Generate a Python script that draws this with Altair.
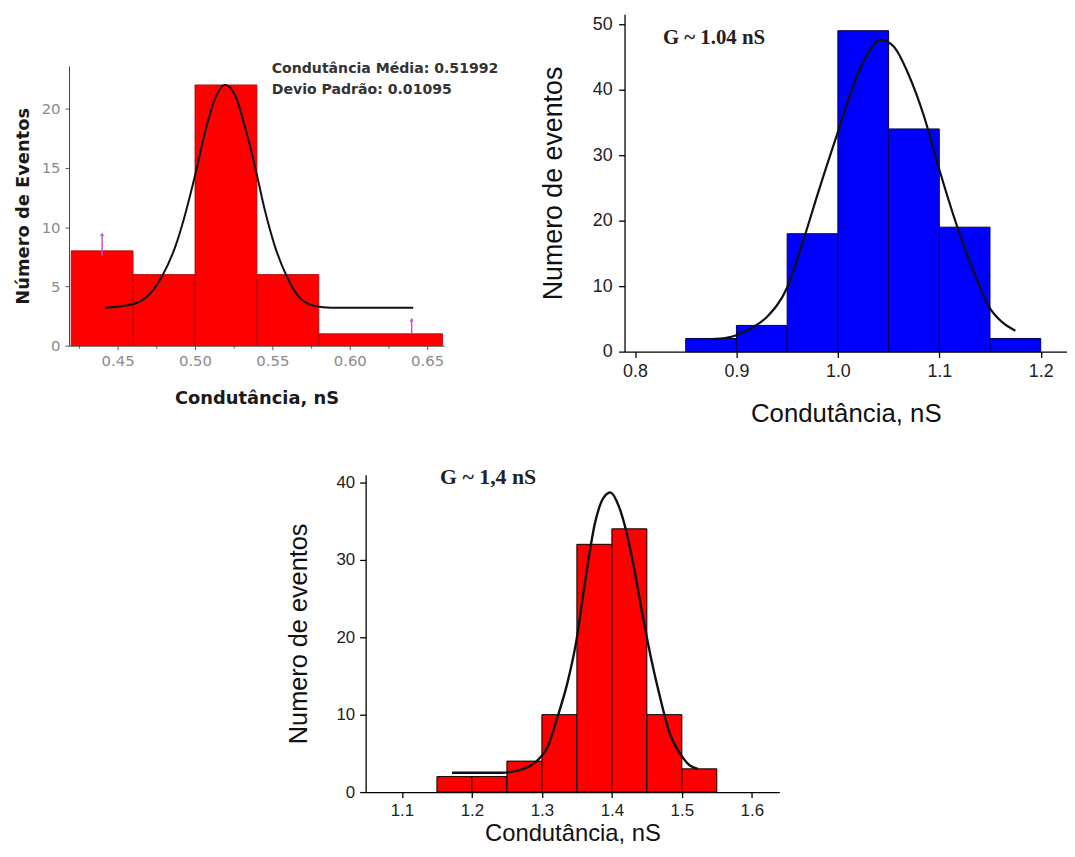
import altair as alt
import pandas as pd

# ---------------- Panel 1 (top-left, red) ----------------
p1_bin_start = [0.42, 0.46, 0.50, 0.54, 0.58]
p1_bin_end = [0.46, 0.50, 0.54, 0.58, 0.66]
p1_counts = [8, 6, 22, 6, 1]
p1_fit_x = [0.4421, 0.4596, 0.4703, 0.4789, 0.4874, 0.4939, 0.5003, 0.5067, 0.5131, 0.5195,
            0.5260, 0.5324, 0.5388, 0.5452, 0.5516, 0.5591, 0.5666, 0.5773, 0.588, 0.641]
p1_fit_y = [3.2, 3.5, 4.3, 5.9, 8.4, 11.2, 14.5, 18.1, 20.9, 22.0,
            21.1, 18.4, 15.1, 11.4, 8.4, 5.9, 4.2, 3.35, 3.2, 3.2]
p1_arrow_x = [0.44, 0.64]
p1_arrow_lo = [7.6, 1.0]
p1_arrow_hi = [9.4, 2.2]
p1_x_ticks = [0.425, 0.45, 0.475, 0.50, 0.525, 0.55, 0.575, 0.60, 0.625, 0.65]
p1_y_ticks = [0, 2.5, 5, 7.5, 10, 12.5, 15, 17.5, 20, 22.5]
p1_note = "Condutância Média: 0.51992\nDevio Padrão: 0.01095"

# ---------------- Panel 2 (top-right, blue) ----------------
p2_bin_start = [0.85, 0.90, 0.95, 1.00, 1.05, 1.10, 1.15]
p2_bin_end = [0.90, 0.95, 1.00, 1.05, 1.10, 1.15, 1.20]
p2_counts = [2, 4, 18, 49, 34, 19, 2]
p2_fit_x = [0.875, 0.89, 0.9, 0.915, 0.93, 0.95, 0.967, 0.98, 1.0, 1.02, 1.03, 1.042,
            1.055, 1.07, 1.085, 1.1, 1.12, 1.1355, 1.15, 1.162, 1.175]
p2_fit_y = [1.9, 2.1, 2.5, 3.6, 5.3, 9.8, 17.5, 24.0, 33.5, 42.5, 45.6, 47.6,
            46.6, 42.2, 35.9, 27.8, 18.0, 11.6, 6.6, 4.5, 3.2]
p2_x_ticks = [0.8, 0.9, 1.0, 1.1, 1.2]
p2_y_ticks = [0, 10, 20, 30, 40, 50]
p2_note = "G ~ 1.04 nS"

# ---------------- Panel 3 (bottom, red) ----------------
p3_bin_start = [1.15, 1.20, 1.25, 1.30, 1.35, 1.40, 1.45, 1.50]
p3_bin_end = [1.20, 1.25, 1.30, 1.35, 1.40, 1.45, 1.50, 1.55]
p3_counts = [2, 2, 4, 10, 32, 34, 10, 3]
p3_fit_x = [1.1716, 1.242, 1.274, 1.293, 1.308, 1.322, 1.337, 1.349, 1.361, 1.376, 1.388,
            1.398, 1.410, 1.420, 1.432, 1.444, 1.456, 1.469, 1.483, 1.498, 1.512, 1.523]
p3_fit_y = [2.5, 2.5, 3.0, 4.05, 5.8, 9.6, 14.3, 19.4, 26.7, 34.8, 38.0,
            38.7, 36.9, 33.9, 28.8, 22.8, 17.3, 12.2, 7.5, 4.9, 3.4, 3.0]
p3_x_ticks = [1.1, 1.2, 1.3, 1.4, 1.5, 1.6]
p3_y_ticks = [0, 5, 10, 15, 20, 25, 30, 35, 40]
p3_note = "G ~ 1,4 nS"

XT = "Condutância, nS"


def spacer(w, h):
    return alt.Chart(pd.DataFrame({"s": [0]})).mark_rect(opacity=0).encode(
        x=alt.value(0), x2=alt.value(1), y=alt.value(0), y2=alt.value(1)
    ).properties(width=w, height=h)


# ---------------- Panel 1 ----------------
W1, H1 = 378, 282
df1 = pd.DataFrame({"x0": p1_bin_start, "x1": p1_bin_end, "n": p1_counts})
fit1 = pd.DataFrame({"x": p1_fit_x, "y": p1_fit_y})
arr1 = pd.DataFrame({"x": p1_arrow_x, "lo": p1_arrow_lo, "hi": p1_arrow_hi})
note1 = pd.DataFrame({"t": [p1_note]})
YT1 = "Número de Eventos"

maj1x = "abs(datum.value*20 - round(datum.value*20)) < 0.001"
maj1y = "datum.value % 5 == 0"
common1 = dict(grid=False, labelFont="DejaVu Sans", labelFontSize=15, labelColor="#8a8a8a",
               tickColor="#555", domainColor="#444", domainWidth=1, tickWidth=1,
               labelFlush=False, labelOverlap=False, zindex=1,
               titleFont="DejaVu Sans", titleFontSize=18, titleFontWeight="bold",
               titleColor="#1a1a1a", titleBaseline="middle")
x1_axis = alt.Axis(values=p1_x_ticks,
                   labelExpr=f"{maj1x} ? format(datum.value, '.2f') : ''",
                   tickSize={"condition": {"test": maj1x, "value": 4}, "value": 2.5},
                   labelPadding=4, titleX=W1 / 2, titleY=53.3, **common1)
y1_axis = alt.Axis(values=p1_y_ticks,
                   labelExpr=f"{maj1y} ? format(datum.value, 'd') : ''",
                   tickSize={"condition": {"test": maj1y, "value": 4}, "value": 2.5},
                   labelPadding=5, titleX=-45.5, titleY=H1 / 2, **common1)
xs1 = alt.Scale(domain=[0.4186, 0.6609], nice=False, zero=False)
ys1 = alt.Scale(domain=[0, 23.6], nice=False)

bars1 = alt.Chart(df1).mark_rect(color="#ff0000", stroke="#b00000", strokeWidth=0.8).encode(
    x=alt.X("x0:Q", scale=xs1, axis=x1_axis, title=XT),
    x2="x1:Q",
    y=alt.Y("n:Q", scale=ys1, axis=y1_axis, title=YT1),
    y2=alt.datum(0),
)
line1 = alt.Chart(fit1).mark_line(color="#111", strokeWidth=2, interpolate="monotone").encode(
    x=alt.X("x:Q", title=XT), y=alt.Y("y:Q", title=YT1))
arule1 = alt.Chart(arr1).mark_rule(color="#d050d0", strokeWidth=1.5).encode(
    x=alt.X("x:Q", title=XT), y=alt.Y("lo:Q", title=YT1), y2="hi:Q")
ahead1 = alt.Chart(arr1).mark_point(shape="triangle-up", size=18, filled=True, color="#d050d0",
                                    opacity=1).encode(
    x=alt.X("x:Q", title=XT), y=alt.Y("hi:Q", title=YT1))
text1 = alt.Chart(note1).mark_text(align="left", baseline="alphabetic", lineBreak="\n",
                                   lineHeight=21.6, font="DejaVu Sans", fontWeight="bold",
                                   fontSize=14.2, color="#333").encode(
    x=alt.datum(0.5496), y=alt.datum(23.0), text="t:N")
P1 = alt.layer(bars1, line1, arule1, ahead1, text1).properties(width=W1, height=H1)

# ---------------- Panel 2 ----------------
W2, H2 = 446, 340
df2 = pd.DataFrame({"x0": p2_bin_start, "x1": p2_bin_end, "n": p2_counts})
fit2 = pd.DataFrame({"x": p2_fit_x, "y": p2_fit_y})
note2 = pd.DataFrame({"t": [p2_note]})
YT2 = "Numero de eventos"
common2 = dict(grid=False, labelFont="Liberation Sans", labelFontSize=18, labelColor="#222",
               tickColor="#000", domainColor="#000", domainWidth=1.3, tickWidth=1.3, tickSize=6,
               labelFlush=False, labelOverlap=False, zindex=1,
               titleFont="Liberation Sans", titleFontWeight="normal", titleColor="#111",
               titleBaseline="middle")
x2_axis = alt.Axis(values=p2_x_ticks, format=".1f", labelPadding=5, titleFontSize=26,
                   titleX=W2 / 2, titleY=62.1, **common2)
y2_axis = alt.Axis(values=p2_y_ticks, format="d", labelPadding=6.5, titleFontSize=27,
                   titleX=-71.1, titleY=H2 / 2, **common2)
xs2 = alt.Scale(domain=[0.7897, 1.2259], nice=False, zero=False)
ys2 = alt.Scale(domain=[0, 51.5], nice=False)
bars2 = alt.Chart(df2).mark_rect(color="#0000ff", stroke="#000050", strokeWidth=1).encode(
    x=alt.X("x0:Q", scale=xs2, axis=x2_axis, title=XT),
    x2="x1:Q",
    y=alt.Y("n:Q", scale=ys2, axis=y2_axis, title=YT2),
    y2=alt.datum(0),
)
line2 = alt.Chart(fit2).mark_line(color="#111", strokeWidth=2.2, interpolate="monotone").encode(
    x=alt.X("x:Q", title=XT), y=alt.Y("y:Q", title=YT2))
text2 = alt.Chart(note2).mark_text(align="left", baseline="alphabetic", font="Liberation Serif",
                                   fontWeight="bold", fontSize=21, color="#222").encode(
    x=alt.datum(0.8275), y=alt.datum(46.9), text="t:N")
P2 = alt.layer(bars2, line2, text2).properties(width=W2, height=H2)

# ---------------- Panel 3 ----------------
W3, H3 = 417, 320
df3 = pd.DataFrame({"x0": p3_bin_start, "x1": p3_bin_end, "n": p3_counts})
fit3 = pd.DataFrame({"x": p3_fit_x, "y": p3_fit_y})
note3 = pd.DataFrame({"t": [p3_note]})
maj3y = "datum.value % 10 == 0"
common3 = dict(grid=False, labelFont="Liberation Sans", labelFontSize=17, labelColor="#222",
               tickColor="#000", domainColor="#000", domainWidth=1.3, tickWidth=1.3,
               labelFlush=False, labelOverlap=False, zindex=1,
               titleFont="Liberation Sans", titleFontWeight="normal", titleColor="#111",
               titleBaseline="middle")
x3_axis = alt.Axis(values=p3_x_ticks, format=".1f", tickSize=5.5, labelPadding=5,
                   titleFontSize=24, titleX=W3 / 2, titleY=42, **common3)
y3_axis = alt.Axis(values=p3_y_ticks,
                   labelExpr=f"{maj3y} ? format(datum.value, 'd') : ''",
                   tickSize={"condition": {"test": maj3y, "value": 6}, "value": 3.5},
                   labelPadding=5, titleFontSize=25.5, titleX=-68, titleY=H3 / 2, **common3)
xs3 = alt.Scale(domain=[1.0481, 1.6393], nice=False, zero=False)
ys3 = alt.Scale(domain=[0, 41], nice=False)
bars3 = alt.Chart(df3).mark_rect(color="#ff0000", stroke="#000000", strokeWidth=1).encode(
    x=alt.X("x0:Q", scale=xs3, axis=x3_axis, title=XT),
    x2="x1:Q",
    y=alt.Y("n:Q", scale=ys3, axis=y3_axis, title=YT2),
    y2=alt.datum(0),
)
line3 = alt.Chart(fit3).mark_line(color="#111", strokeWidth=2.4, interpolate="monotone").encode(
    x=alt.X("x:Q", title=XT), y=alt.Y("y:Q", title=YT2))
text3 = alt.Chart(note3).mark_text(align="left", baseline="alphabetic", font="Liberation Serif",
                                   fontWeight="bold", fontSize=22, color="#222").encode(
    x=alt.datum(1.1544), y=alt.datum(39.8), text="t:N")
P3 = alt.layer(bars3, line3, text3).properties(width=W3, height=H3)

# ---------------- Layout ----------------
p1col = alt.vconcat(spacer(10, 48), P1, spacing=0)
top = alt.hconcat(p1col, P2, spacing=41)
bottom = alt.hconcat(spacer(219, 10), P3, spacing=0)
chart = alt.vconcat(top, bottom, spacing=39).properties(
    padding={"left": 6.5, "top": 3, "right": 0, "bottom": 0},
    background="white",
).configure_view(stroke=None)

chart.save("out.html", embed_options={"renderer": "svg", "actions": False})
